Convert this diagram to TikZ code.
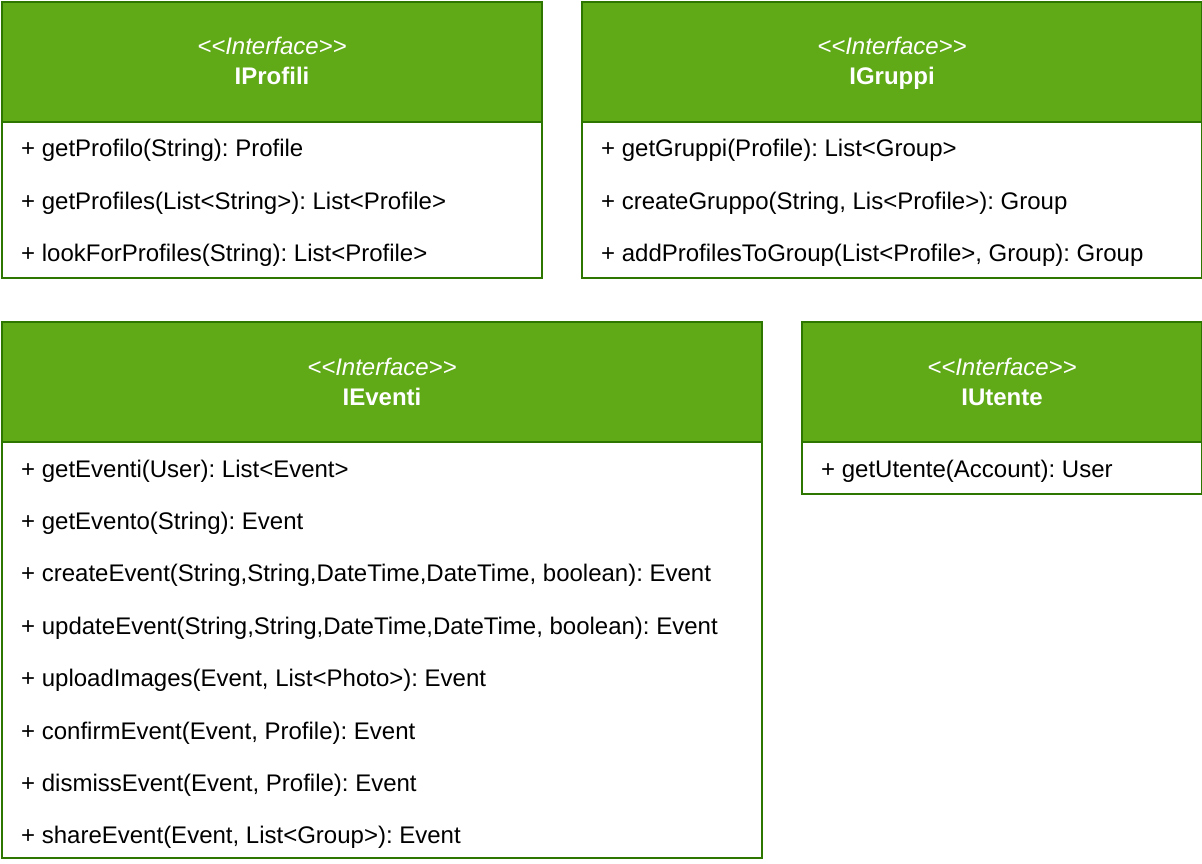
\documentclass[tikz,border=0pt]{standalone}
\usepackage{fontspec}
\setmainfont{Liberation Sans}[Ligatures=TeXOff]
\usepackage{tikz}
\usetikzlibrary{positioning}

\definecolor{umlgreen}{HTML}{60A917}
\definecolor{umlborder}{HTML}{2D7600}
\newcommand{\stereo}[1]{\textit{<<#1>>}\strut\rule{0pt}{25pt}}

\frenchspacing
\begin{document}
\begin{tikzpicture}[
    x=1pt, y=-1pt,
    node distance=0pt,
    head/.style={rectangle, draw=umlborder, fill=umlgreen, line width=2pt, text=white, anchor=north west,
        minimum height=120pt, align=center, inner sep=0pt, font=\fontsize{24}{30}\selectfont},
    body/.style={rectangle, draw=umlborder, fill=white, line width=2pt, anchor=north west, inner sep=0pt},
    member/.style={anchor=west, inner sep=0pt, minimum height=52pt, text height=20pt, text depth=2pt,
        font=\fontsize{24}{28}\selectfont}
]
    \useasboundingbox (0,0) rectangle (1202,864);

    % IProfili
    \node[body, minimum width=540pt, minimum height=276pt] (profbox) at (1,1) {};
    \node[head, minimum width=540pt] (profhead) at (1,1) {\stereo{Interface}\\\textbf{IProfili}\strut};
    \node[member] (prof1) at (21,148) {+ getProfilo(String): Profile};
    \node[member, below=of prof1.south west, anchor=north west] (prof2) {+ getProfiles(List<String>): List<Profile>};
    \node[member, below=of prof2.south west, anchor=north west] (prof3) {+ lookForProfiles(String): List<Profile>};

    % IGruppi
    \node[body, minimum width=620pt, minimum height=276pt] (grupbox) at (581,1) {};
    \node[head, minimum width=620pt] (gruphead) at (581,1) {\stereo{Interface}\\\textbf{IGruppi}\strut};
    \node[member] (grup1) at (601,148) {+ getGruppi(Profile): List<Group>};
    \node[member, below=of grup1.south west, anchor=north west] (grup2) {+ createGruppo(String, Lis<Profile>): Group};
    \node[member, below=of grup2.south west, anchor=north west] (grup3) {+ addProfilesToGroup(List<Profile>, Group): Group};

    % IEventi
    \node[body, minimum width=760pt, minimum height=536pt] (evenbox) at (1,321) {};
    \node[head, minimum width=760pt] (evenhead) at (1,321) {\stereo{Interface}\\\textbf{IEventi}\strut};
    \node[member] (even1) at (21,468) {+ getEventi(User): List<Event>};
    \node[member, below=of even1.south west, anchor=north west] (even2) {+ getEvento(String): Event};
    \node[member, below=of even2.south west, anchor=north west] (even3) {+ createEvent(String,String,DateTime,DateTime, boolean): Event};
    \node[member, below=of even3.south west, anchor=north west] (even4) {+ updateEvent(String,String,DateTime,DateTime, boolean): Event};
    \node[member, below=of even4.south west, anchor=north west] (even5) {+ uploadImages(Event, List<Photo>): Event};
    \node[member, below=of even5.south west, anchor=north west] (even6) {+ confirmEvent(Event, Profile): Event};
    \node[member, below=of even6.south west, anchor=north west] (even7) {+ dismissEvent(Event, Profile): Event};
    \node[member, below=of even7.south west, anchor=north west] (even8) {+ shareEvent(Event, List<Group>): Event};

    % IUtente
    \node[body, minimum width=400pt, minimum height=172pt] (utenbox) at (801,321) {};
    \node[head, minimum width=400pt] (utenhead) at (801,321) {\stereo{Interface}\\\textbf{IUtente}\strut};
    \node[member] (uten1) at (821,468) {+ getUtente(Account): User};
\end{tikzpicture}
\end{document}
